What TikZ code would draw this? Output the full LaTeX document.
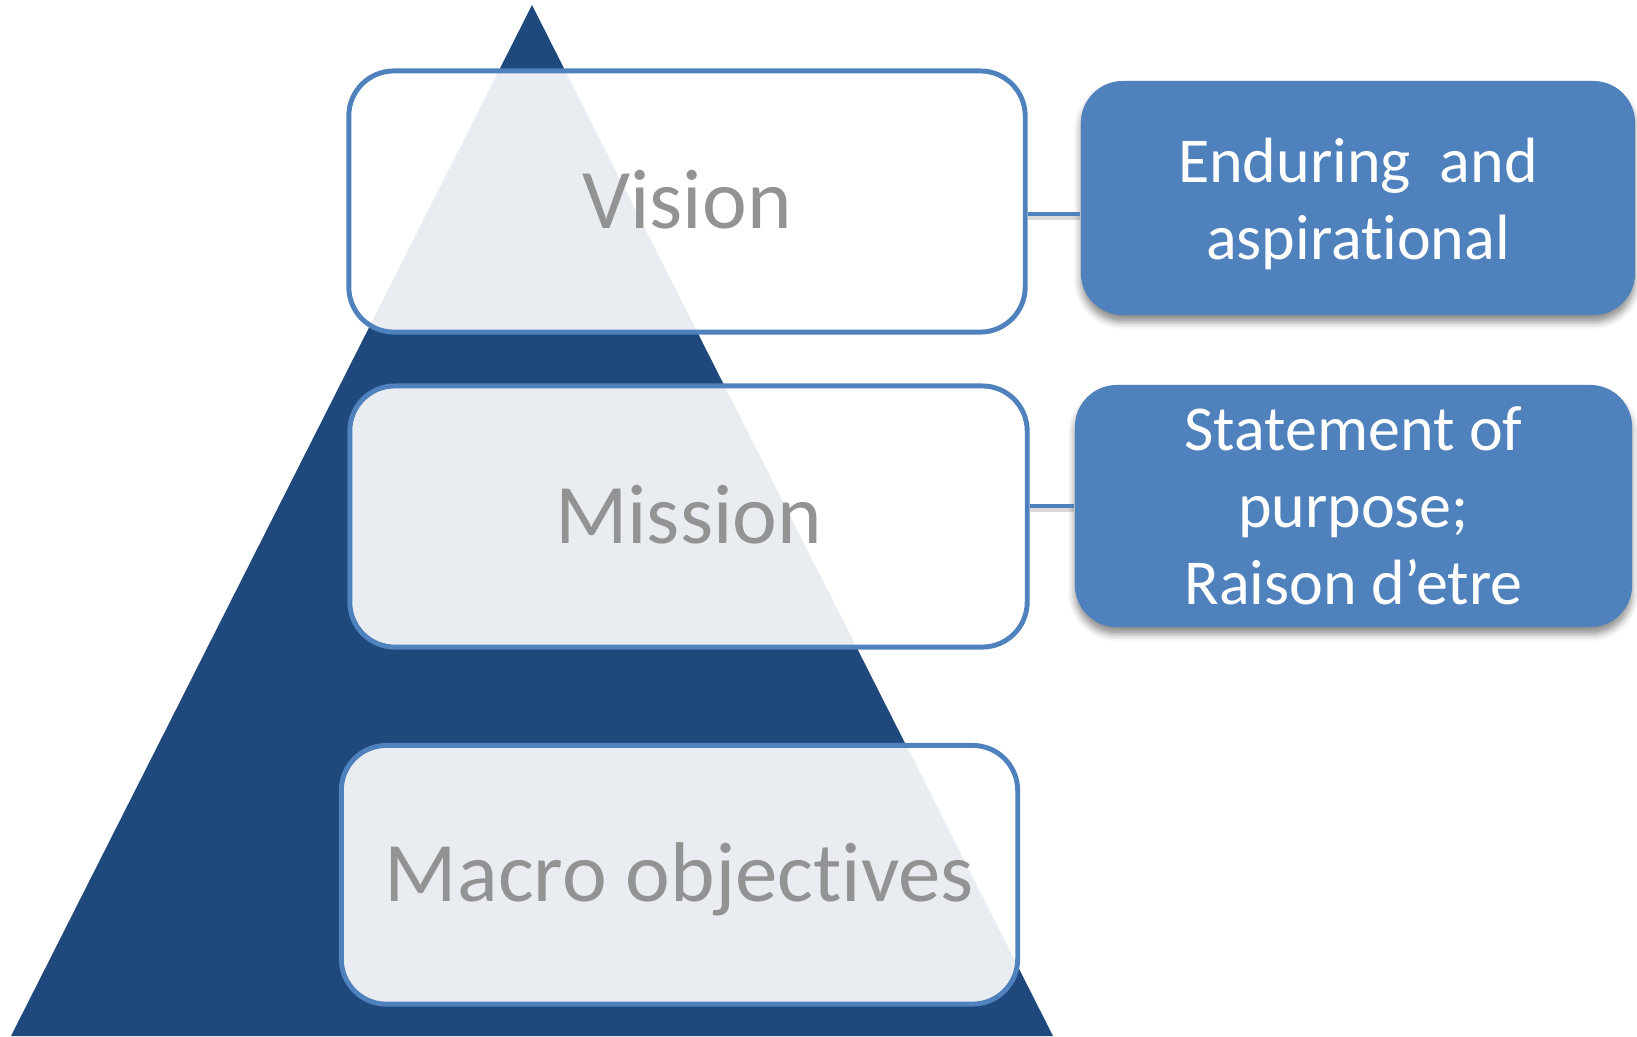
\documentclass[tikz,border=0pt]{standalone}
\usepackage{fontspec}
\setmainfont{Carlito}[Ligatures=NoCommon]
\usetikzlibrary{shadows.blur}
\definecolor{tri}{RGB}{31,73,125}
\definecolor{edgeblue}{RGB}{79,129,189}
\definecolor{txtgray}{RGB}{147,147,147}
\begin{document}
\begin{tikzpicture}[x=0.01cm,y=-0.01cm,
  levelbox/.style={draw=edgeblue, line width=1.4pt, fill=white, fill opacity=0.9, text opacity=1,
    rounded corners=0.45cm, inner sep=0pt, text=txtgray, font=\fontsize{24.1}{29}\selectfont,
    text height=0.54cm, text depth=0pt},
  notebox/.style={fill=edgeblue, rounded corners=0.42cm, text=white, align=center, inner sep=0pt,
    font=\fontsize{18.2}{21.9}\selectfont,
    blur shadow={shadow xshift=0pt, shadow yshift=-0.07cm, shadow blur radius=0.07cm, shadow opacity=45}},
  conn/.style={draw=edgeblue, line width=1.4pt},
  connshadow/.style={draw=black, line width=2pt, draw opacity=0.15}
]
\useasboundingbox (0,0) rectangle (1637,1036);
% pyramid
\coordinate (apex) at (532,5);
\coordinate (br) at (1053,1036);
\coordinate (bl) at (11,1036);
\fill[tri] (apex) -- (br) -- (bl) -- cycle;
% level boxes
\node[levelbox, minimum width=6.76cm, minimum height=2.61cm] (vision) at (687,201.5) {Vision};
\node[levelbox, minimum width=6.77cm, minimum height=2.61cm] (mission) at (688.5,516.5) {Mission};
\node[levelbox, minimum width=6.76cm, minimum height=2.585cm] (macro) at (679.5,874.75) {Macro objectives};
% note boxes
\node[notebox, minimum width=5.54cm, minimum height=2.34cm] (endur) at (1358,198) {\rule{0pt}{0.57cm}Enduring\ \ and\\aspirational};
\node[notebox, minimum width=5.57cm, minimum height=2.42cm] (stmt) at (1353.5,506) {Statement of\\purpose;\\Raison d’etre};
% connectors
\draw[connshadow] ([yshift=-0.15cm]vision.east) -- ([yshift=-0.15cm]vision.east -| endur.west);
\draw[conn] ([yshift=-0.125cm]vision.east) -- ([yshift=-0.125cm]vision.east -| endur.west);
\draw[connshadow] ([yshift=0.08cm]mission.east) -- ([yshift=0.08cm]mission.east -| stmt.west);
\draw[conn] ([yshift=0.105cm]mission.east) -- ([yshift=0.105cm]mission.east -| stmt.west);
\end{tikzpicture}
\end{document}
